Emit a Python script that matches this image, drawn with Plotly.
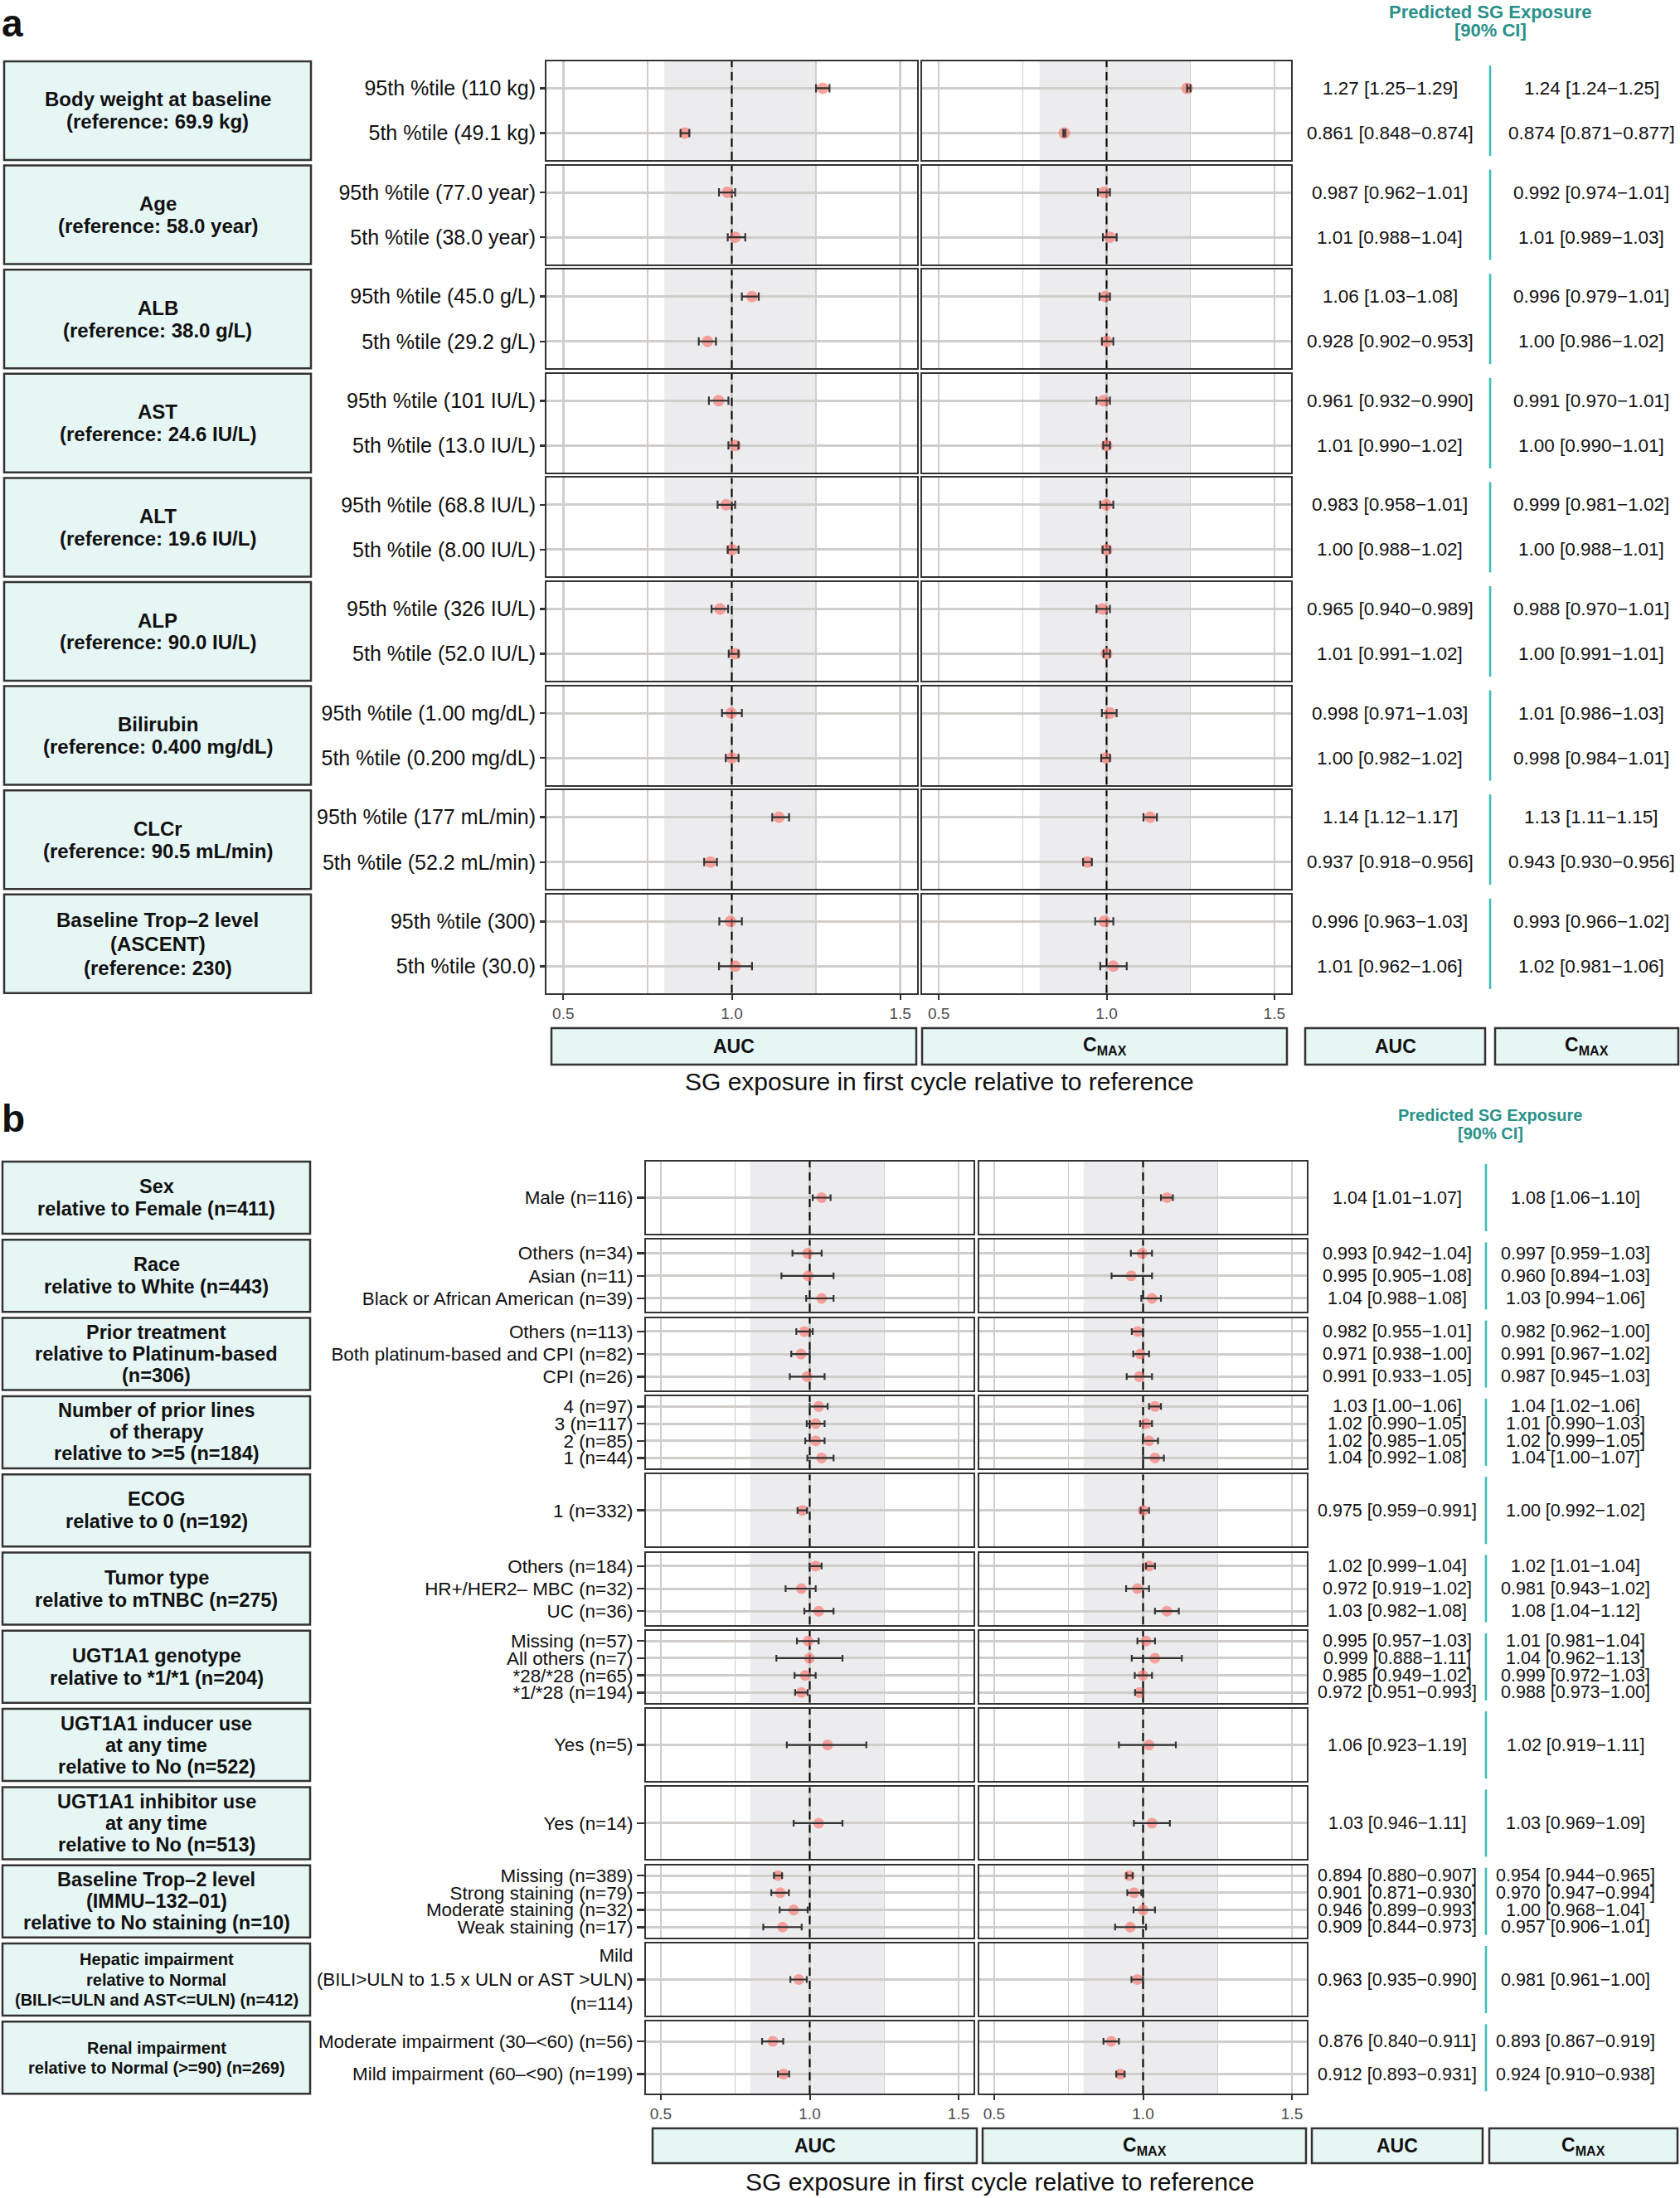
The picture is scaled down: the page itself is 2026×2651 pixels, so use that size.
import plotly.graph_objects as go

W, H = 2026, 2651
FONT = "Liberation Sans, Arial, Helvetica, sans-serif"

# ------------------------------------------------------------------ data
# ---- panel a : continuous covariates (rows listed top -> bottom) ----
a_groups = [
    ["Body weight at baseline", "(reference: 69.9 kg)"],
    ["Age", "(reference: 58.0 year)"],
    ["ALB", "(reference: 38.0 g/L)"],
    ["AST", "(reference: 24.6 IU/L)"],
    ["ALT", "(reference: 19.6 IU/L)"],
    ["ALP", "(reference: 90.0 IU/L)"],
    ["Bilirubin", "(reference: 0.400 mg/dL)"],
    ["CLCr", "(reference: 90.5 mL/min)"],
    ["Baseline Trop–2 level", "(ASCENT)", "(reference: 230)"],
]
a_rows = [
    ["95th %tile (110 kg)", "5th %tile (49.1 kg)"],
    ["95th %tile (77.0 year)", "5th %tile (38.0 year)"],
    ["95th %tile (45.0 g/L)", "5th %tile (29.2 g/L)"],
    ["95th %tile (101 IU/L)", "5th %tile (13.0 IU/L)"],
    ["95th %tile (68.8 IU/L)", "5th %tile (8.00 IU/L)"],
    ["95th %tile (326 IU/L)", "5th %tile (52.0 IU/L)"],
    ["95th %tile (1.00 mg/dL)", "5th %tile (0.200 mg/dL)"],
    ["95th %tile (177 mL/min)", "5th %tile (52.2 mL/min)"],
    ["95th %tile (300)", "5th %tile (30.0)"],
]
a_auc = [[1.27, 0.861], [0.987, 1.01], [1.06, 0.928], [0.961, 1.01], [0.983, 1.00],
         [0.965, 1.01], [0.998, 1.00], [1.14, 0.937], [0.996, 1.01]]
a_auc_lo = [[1.25, 0.848], [0.962, 0.988], [1.03, 0.902], [0.932, 0.990], [0.958, 0.988],
            [0.940, 0.991], [0.971, 0.982], [1.12, 0.918], [0.963, 0.962]]
a_auc_hi = [[1.29, 0.874], [1.01, 1.04], [1.08, 0.953], [0.990, 1.02], [1.01, 1.02],
            [0.989, 1.02], [1.03, 1.02], [1.17, 0.956], [1.03, 1.06]]
a_cmax = [[1.24, 0.874], [0.992, 1.01], [0.996, 1.00], [0.991, 1.00], [0.999, 1.00],
          [0.988, 1.00], [1.01, 0.998], [1.13, 0.943], [0.993, 1.02]]
a_cmax_lo = [[1.24, 0.871], [0.974, 0.989], [0.979, 0.986], [0.970, 0.990], [0.981, 0.988],
             [0.970, 0.991], [0.986, 0.984], [1.11, 0.930], [0.966, 0.981]]
a_cmax_hi = [[1.25, 0.877], [1.01, 1.03], [1.01, 1.02], [1.01, 1.01], [1.02, 1.01],
             [1.01, 1.01], [1.03, 1.01], [1.15, 0.956], [1.02, 1.06]]

# ---- panel b : categorical covariates ----
b_groups = [
    ["Sex", "relative to Female (n=411)"],
    ["Race", "relative to White (n=443)"],
    ["Prior treatment", "relative to Platinum-based", "(n=306)"],
    ["Number of prior lines", "of therapy", "relative to &gt;=5 (n=184)"],
    ["ECOG", "relative to 0 (n=192)"],
    ["Tumor type", "relative to mTNBC (n=275)"],
    ["UGT1A1 genotype", "relative to *1/*1 (n=204)"],
    ["UGT1A1 inducer use", "at any time", "relative to No (n=522)"],
    ["UGT1A1 inhibitor use", "at any time", "relative to No (n=513)"],
    ["Baseline Trop–2 level", "(IMMU–132–01)", "relative to No staining (n=10)"],
    ["Hepatic impairment", "relative to Normal", "(BILI&lt;=ULN and AST&lt;=ULN) (n=412)"],
    ["Renal impairment", "relative to Normal (&gt;=90) (n=269)"],
]
b_small_label = [False] * 10 + [True, True]
b_rows = [
    ["Male (n=116)"],
    ["Others (n=34)", "Asian (n=11)", "Black or African American (n=39)"],
    ["Others (n=113)", "Both platinum-based and CPI (n=82)", "CPI (n=26)"],
    ["4 (n=97)", "3 (n=117)", "2 (n=85)", "1 (n=44)"],
    ["1 (n=332)"],
    ["Others (n=184)", "HR+/HER2– MBC (n=32)", "UC (n=36)"],
    ["Missing (n=57)", "All others (n=7)", "*28/*28 (n=65)", "*1/*28 (n=194)"],
    ["Yes (n=5)"],
    ["Yes (n=14)"],
    ["Missing (n=389)", "Strong staining (n=79)", "Moderate staining (n=32)", "Weak staining (n=17)"],
    ["Mild<br>(BILI&gt;ULN to 1.5 x ULN or AST &gt;ULN)<br>(n=114)"],
    ["Moderate impairment (30–&lt;60) (n=56)", "Mild impairment (60–&lt;90) (n=199)"],
]
b_auc = [[1.04], [0.993, 0.995, 1.04], [0.982, 0.971, 0.991], [1.03, 1.02, 1.02, 1.04], [0.975],
         [1.02, 0.972, 1.03], [0.995, 0.999, 0.985, 0.972], [1.06], [1.03],
         [0.894, 0.901, 0.946, 0.909], [0.963], [0.876, 0.912]]
b_auc_lo = [[1.01], [0.942, 0.905, 0.988], [0.955, 0.938, 0.933], [1.00, 0.990, 0.985, 0.992], [0.959],
            [0.999, 0.919, 0.982], [0.957, 0.888, 0.949, 0.951], [0.923], [0.946],
            [0.880, 0.871, 0.899, 0.844], [0.935], [0.840, 0.893]]
b_auc_hi = [[1.07], [1.04, 1.08, 1.08], [1.01, 1.00, 1.05], [1.06, 1.05, 1.05, 1.08], [0.991],
            [1.04, 1.02, 1.08], [1.03, 1.11, 1.02, 0.993], [1.19], [1.11],
            [0.907, 0.930, 0.993, 0.973], [0.990], [0.911, 0.931]]
b_cmax = [[1.08], [0.997, 0.960, 1.03], [0.982, 0.991, 0.987], [1.04, 1.01, 1.02, 1.04], [1.00],
          [1.02, 0.981, 1.08], [1.01, 1.04, 0.999, 0.988], [1.02], [1.03],
          [0.954, 0.970, 1.00, 0.957], [0.981], [0.893, 0.924]]
b_cmax_lo = [[1.06], [0.959, 0.894, 0.994], [0.962, 0.967, 0.945], [1.02, 0.990, 0.999, 1.00], [0.992],
             [1.01, 0.943, 1.04], [0.981, 0.962, 0.972, 0.973], [0.919], [0.969],
             [0.944, 0.947, 0.968, 0.906], [0.961], [0.867, 0.910]]
b_cmax_hi = [[1.10], [1.03, 1.03, 1.06], [1.00, 1.02, 1.03], [1.06, 1.03, 1.05, 1.07], [1.02],
             [1.04, 1.02, 1.12], [1.04, 1.13, 1.03, 1.00], [1.11], [1.09],
             [0.965, 0.994, 1.04, 1.01], [1.00], [0.919, 0.938]]

x_tickvals = [0.5, 1.0, 1.5]
x_ticktext = ["0.5", "1.0", "1.5"]
x_minor = [0.75, 1.25]
band = (0.8, 1.25)
x_range = [0.45, 1.55]

# ------------------------------------------------------------------ style
GRID = "#d0cdca"
FRAME = "#333333"
BOXFILL = "#e6f6f5"
TEAL_TXT = "#2a9189"
TEAL_LINE = "#3fbdb5"
PT = "rgba(248,118,109,0.66)"


def fmt(v):
    return f"{v:.2f}" if v >= 1 else f"{v:.3f}"


def pxx(p):
    return p / W


def pxy(p):
    return 1 - p / H


panels = [
    dict(groups=a_groups, small=[False] * len(a_groups), rows=a_rows,
         auc=(a_auc, a_auc_lo, a_auc_hi), cmax=(a_cmax, a_cmax_lo, a_cmax_hi),
         top0=74, pitch=125.6, gh=119, auc_x=(659, 1106), cmax_x=(1112, 1557), box_x=(5, 375),
         txt_x=(1676, 1919), sep_x=1797, sep_in=5, row_font=25, val_font=22.5, box_font=24,
         box_sp2=27, box_sp3=29, ticklen=6, psize=14, cap=5,
         letter="a", letter_y=(0, "top"), header_y=(0, 37), header_font=22,
         strips=[(665, 1105), (1112, 1552), (1574, 1791), (1803, 2024)], strip_y=(1240, 1284),
         title_xy=(1133, 1304)),
    dict(groups=b_groups, small=b_small_label, rows=b_rows,
         auc=(b_auc, b_auc_lo, b_auc_hi), cmax=(b_cmax, b_cmax_lo, b_cmax_hi),
         top0=1401, pitch=94.3, gh=87, auc_x=(779, 1174), cmax_x=(1181, 1576), box_x=(3, 374),
         txt_x=(1685, 1900), sep_x=1792, sep_in=3, row_font=22.4, val_font=21.5, box_font=23.5,
         box_sp2=27, box_sp3=26, ticklen=9, psize=13, cap=4,
         letter="b", letter_y=(1349, "middle"), header_y=(1332, 1367), header_font=20,
         strips=[(787, 1178), (1185, 1575), (1582, 1788), (1796, 2023)], strip_y=(2567, 2609),
         title_xy=(1206, 2631)),
]

fig = go.Figure()
layout = dict(width=W, height=H, margin=dict(l=0, r=0, t=0, b=0), autosize=False,
              paper_bgcolor="white", plot_bgcolor="white", showlegend=False,
              font=dict(family=FONT, color="#111111"))
shapes, annotations = [], []
ax_i = 0

for P in panels:
    ng = len(P["groups"])
    for g in range(ng):
        top = P["top0"] + g * P["pitch"]
        bot = top + P["gh"]
        rows = P["rows"][g]
        n = len(rows)
        ypos = list(range(n - 1, -1, -1))
        last = g == ng - 1
        yr = [-0.6, n - 0.4]
        for col, (series, xr) in enumerate([(P["auc"], P["auc_x"]), (P["cmax"], P["cmax_x"])]):
            vals, lo, hi = series[0][g], series[1][g], series[2][g]
            ax_i += 1
            xn = "x" if ax_i == 1 else f"x{ax_i}"
            yn = "y" if ax_i == 1 else f"y{ax_i}"
            xk = "xaxis" if ax_i == 1 else f"xaxis{ax_i}"
            yk = "yaxis" if ax_i == 1 else f"yaxis{ax_i}"
            layout[xk] = dict(
                domain=[pxx(xr[0]), pxx(xr[1])], range=x_range, anchor=yn,
                tickmode="array", tickvals=x_tickvals, ticktext=x_ticktext,
                showticklabels=last, ticks="outside" if last else "", ticklen=6, tickwidth=2,
                tickcolor=FRAME, tickfont=dict(size=19, color="#4d4d4d"),
                showgrid=True, gridcolor=GRID, gridwidth=2.5,
                minor=dict(tickvals=x_minor, showgrid=True, gridcolor=GRID, gridwidth=1.3),
                showline=True, mirror=True, linecolor=FRAME, linewidth=2,
                zeroline=False, fixedrange=True)
            layout[yk] = dict(
                domain=[pxy(bot), pxy(top)], range=yr, anchor=xn,
                tickmode="array", tickvals=ypos, ticktext=rows,
                showticklabels=(col == 0), ticks="outside" if col == 0 else "",
                ticklen=P["ticklen"], tickwidth=2.5, tickcolor=FRAME,
                tickfont=dict(size=P["row_font"], color="#111111"),
                showgrid=True, gridcolor=GRID, gridwidth=3,
                showline=True, mirror=True, linecolor=FRAME, linewidth=2,
                zeroline=False, fixedrange=True)
            # reference band and reference line
            shapes.append(dict(type="rect", xref=xn, yref=yn, x0=band[0], x1=band[1],
                               y0=yr[0], y1=yr[1], fillcolor="#ececef", line_width=0, layer="below"))
            shapes.append(dict(type="line", xref=xn, yref=yn, x0=1, x1=1, y0=yr[0], y1=yr[1],
                               line=dict(color="black", width=2, dash="10px,6px"), layer="between"))
            # points
            fig.add_trace(go.Scatter(x=vals, y=ypos, mode="markers", xaxis=xn, yaxis=yn,
                                     marker=dict(size=P["psize"], color=PT, line_width=0),
                                     hoverinfo="skip"))
            # error bars on top
            fig.add_trace(go.Scatter(
                x=vals, y=ypos, mode="markers", xaxis=xn, yaxis=yn,
                marker=dict(size=1, color="rgba(0,0,0,0)"),
                error_x=dict(type="data", symmetric=False,
                             array=[h - v for h, v in zip(hi, vals)],
                             arrayminus=[v - l for v, l in zip(vals, lo)],
                             color="#333333", thickness=2.2, width=P["cap"]),
                hoverinfo="skip"))
            # predicted exposure text column
            for r in range(n):
                annotations.append(dict(
                    xref="paper", yref=yn, x=pxx(P["txt_x"][col]), y=ypos[r],
                    text=f"{fmt(vals[r])} [{fmt(lo[r])}−{fmt(hi[r])}]",
                    showarrow=False, xanchor="center", yanchor="middle",
                    font=dict(size=P["val_font"], color="#111111")))
        # teal separator between text columns
        shapes.append(dict(type="line", xref="paper", yref="paper",
                           x0=pxx(P["sep_x"]), x1=pxx(P["sep_x"]),
                           y0=pxy(bot - P["sep_in"]), y1=pxy(top + P["sep_in"]),
                           line=dict(color=TEAL_LINE, width=2.6)))
        # covariate box on the left
        bx0, bx1 = P["box_x"]
        shapes.append(dict(type="rect", xref="paper", yref="paper", x0=pxx(bx0), x1=pxx(bx1),
                           y0=pxy(bot), y1=pxy(top), fillcolor=BOXFILL,
                           line=dict(color=FRAME, width=2.5)))
        lines = P["groups"][g]
        m = len(lines)
        small = P["small"][g]
        sp = 24.5 if small else (P["box_sp2"] if m <= 2 else P["box_sp3"])
        fs = 20 if small else P["box_font"]
        cy = (top + bot) / 2
        for k, t in enumerate(lines):
            yy = cy + (k - (m - 1) / 2) * sp
            annotations.append(dict(xref="paper", yref="paper", x=pxx((bx0 + bx1) / 2), y=pxy(yy),
                                    text=f"<b>{t}</b>", showarrow=False, xanchor="center",
                                    yanchor="middle", font=dict(size=fs, color="#111111")))
    # bottom strips
    sy0, sy1 = P["strip_y"]
    for (sx0, sx1), lab in zip(P["strips"], ["AUC", "CMAX", "AUC", "CMAX"]):
        shapes.append(dict(type="rect", xref="paper", yref="paper", x0=pxx(sx0), x1=pxx(sx1),
                           y0=pxy(sy1), y1=pxy(sy0), fillcolor=BOXFILL,
                           line=dict(color=FRAME, width=2.5)))
        txt = "<b>AUC</b>" if lab == "AUC" else "<b>C<sub>MAX</sub></b>"
        annotations.append(dict(xref="paper", yref="paper", x=pxx((sx0 + sx1) / 2),
                                y=pxy((sy0 + sy1) / 2), text=txt, showarrow=False,
                                xanchor="center", yanchor="middle",
                                font=dict(size=23, color="#111111")))
    # axis title
    tx, ty = P["title_xy"]
    annotations.append(dict(xref="paper", yref="paper", x=pxx(tx), y=pxy(ty),
                            text="SG exposure in first cycle relative to reference",
                            showarrow=False, xanchor="center", yanchor="middle",
                            font=dict(size=30, color="#111111")))
    # header (two lines)
    h1, h2 = P["header_y"]
    annotations.append(dict(xref="paper", yref="paper", x=pxx(1797), y=pxy(h1),
                            text="<b>Predicted SG Exposure</b>", showarrow=False,
                            xanchor="center", yanchor="top",
                            font=dict(size=P["header_font"], color=TEAL_TXT)))
    annotations.append(dict(xref="paper", yref="paper", x=pxx(1797), y=pxy(h2),
                            text="<b>[90% CI]</b>", showarrow=False,
                            xanchor="center", yanchor="middle",
                            font=dict(size=P["header_font"], color=TEAL_TXT)))
    # panel letter
    ly, lanchor = P["letter_y"]
    annotations.append(dict(xref="paper", yref="paper", x=pxx(0), y=pxy(ly),
                            text=f"<b>{P['letter']}</b>", showarrow=False, xanchor="left",
                            yanchor=lanchor, font=dict(size=46, color="#111111")))

layout["shapes"] = shapes
layout["annotations"] = annotations
fig.update_layout(**layout)
fig.write_html("out.html",
               config={"displayModeBar": False, "staticPlot": True},
               post_script="document.body.style.margin='0px';document.body.style.padding='0px';")
